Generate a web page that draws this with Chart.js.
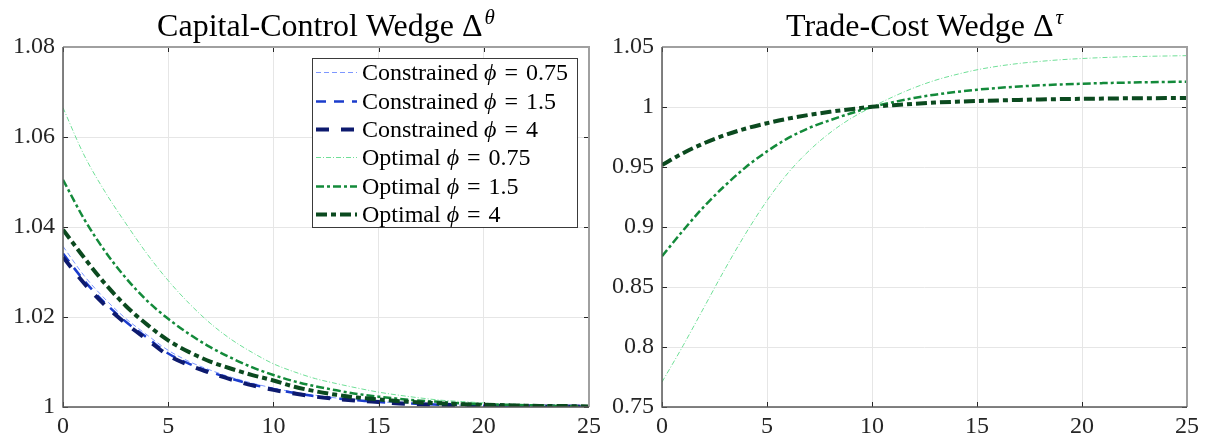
<!DOCTYPE html>
<html>
<head>
<meta charset="utf-8">
<title>Wedges</title>
<script src="https://cdn.jsdelivr.net/npm/chart.js@4.4.1/dist/chart.umd.min.js"></script>
<style>
  html, body { margin: 0; padding: 0; background: #fff; }
  #wrap { position: relative; width: 1209px; height: 444px; }
  #left { position: absolute; left: 0; top: 0; }
  #right { position: absolute; left: 600px; top: 0; }
</style>
</head>
<body>
<div id="wrap">
  <canvas id="left" width="600" height="444"></canvas>
  <canvas id="right" width="609" height="444"></canvas>
</div>
<script>
const SERIF = '"Liberation Serif", "Times New Roman", serif';

// horizon (periods)
const steps = [0, 1, 2, 3, 4, 5, 6, 7, 8, 9, 10, 11, 12, 13, 14, 15, 16, 17, 18, 19, 20, 21, 22, 23, 24, 25];

const xTicks = [0, 5, 10, 15, 20, 25];
const capitalTicks = [1, 1.02, 1.04, 1.06, 1.08];
const tradeTicks = [0.75, 0.8, 0.85, 0.9, 0.95, 1, 1.05];

// capital-control wedge
const capConstrained075 = [1.0357, 1.0292, 1.0240, 1.0196, 1.0160, 1.0126, 1.0101, 1.0082, 1.0066, 1.0053, 1.0042, 1.0033, 1.0026, 1.0020, 1.0016, 1.0012, 1.0009, 1.0007, 1.0005, 1.0004, 1.0003, 1.0002, 1.0002, 1.0001, 1.0001, 1.0001];
const capConstrained15 = [1.0341, 1.0281, 1.0231, 1.0189, 1.0154, 1.0119, 1.0096, 1.0078, 1.0063, 1.0050, 1.0040, 1.0031, 1.0024, 1.0019, 1.0015, 1.0011, 1.0009, 1.0007, 1.0005, 1.0004, 1.0003, 1.0002, 1.0002, 1.0001, 1.0001, 1.0001];
const capConstrained4 = [1.0333, 1.0275, 1.0226, 1.0185, 1.0150, 1.0115, 1.0093, 1.0076, 1.0061, 1.0048, 1.0038, 1.0030, 1.0023, 1.0018, 1.0014, 1.0011, 1.0008, 1.0006, 1.0005, 1.0004, 1.0003, 1.0002, 1.0002, 1.0001, 1.0001, 1.0001];
const capOptimal075 = [1.0665, 1.0560, 1.0478, 1.0407, 1.0340, 1.0281, 1.0230, 1.0186, 1.0150, 1.0121, 1.0096, 1.0078, 1.0063, 1.0052, 1.0042, 1.0033, 1.0026, 1.0020, 1.0015, 1.0012, 1.0009, 1.0006, 1.0004, 1.0003, 1.0002, 1.0001];
const capOptimal15 = [1.0505, 1.0418, 1.0346, 1.0286, 1.0236, 1.0196, 1.0162, 1.0133, 1.0109, 1.0088, 1.0071, 1.0057, 1.0046, 1.0037, 1.0029, 1.0023, 1.0018, 1.0014, 1.0011, 1.0008, 1.0006, 1.0005, 1.0004, 1.0003, 1.0002, 1.0001];
const capOptimal4 = [1.0394, 1.0332, 1.0274, 1.0224, 1.0183, 1.0148, 1.0122, 1.0101, 1.0085, 1.0071, 1.0059, 1.0045, 1.0035, 1.0027, 1.0021, 1.0017, 1.0013, 1.0010, 1.0008, 1.0006, 1.0005, 1.0004, 1.0003, 1.0002, 1.0002, 1.0001];

// trade-cost wedge
const tradeOptimal075 = [0.7708, 0.8010, 0.8330, 0.8650, 0.8950, 0.9220, 0.9450, 0.9635, 0.9785, 0.9905, 1.0000, 1.0085, 1.0160, 1.0222, 1.0270, 1.0310, 1.0340, 1.0363, 1.0380, 1.0394, 1.0404, 1.0412, 1.0418, 1.0422, 1.0425, 1.0428];
const tradeOptimal15 = [0.8756, 0.8970, 0.9170, 0.9345, 0.9500, 0.9630, 0.9740, 0.9825, 0.9890, 0.9948, 1.0000, 1.0040, 1.0075, 1.0103, 1.0125, 1.0144, 1.0159, 1.0171, 1.0181, 1.0188, 1.0194, 1.0199, 1.0203, 1.0206, 1.0209, 1.0211];
const tradeOptimal4 = [0.9516, 0.9615, 0.9698, 0.9766, 0.9821, 0.9865, 0.9903, 0.9934, 0.9960, 0.9982, 1.0002, 1.0015, 1.0027, 1.0037, 1.0044, 1.0050, 1.0055, 1.0059, 1.0063, 1.0066, 1.0068, 1.0070, 1.0072, 1.0073, 1.0074, 1.0075];

const legendNames = ["Constrained", "Constrained", "Constrained", "Optimal", "Optimal", "Optimal"];
const legendPhi = ["0.75", "1.5", "4", "0.75", "1.5", "4"];

const styles = {
  c075: { color: "#7d97ff", width: 1, dash: [5, 3] },
  c15: { color: "#1b3ccc", width: 2.5, dash: [10, 8] },
  c4: { color: "#0d1a6e", width: 4, dash: [13, 12] },
  o075: { color: "#6fdf97", width: 1, dash: [5, 2, 1, 2] },
  o15: { color: "#138a3a", width: 2.5, dash: [8, 3, 3, 3] },
  o4: { color: "#0b4a1f", width: 4, dash: [11, 4, 5, 4] },
};

function series(values, style, order) {
  return {
    data: steps.map((x, i) => ({ x: x, y: values[i] })),
    borderColor: style.color,
    borderWidth: style.width,
    borderDash: style.dash,
    pointRadius: 0,
    cubicInterpolationMode: "monotone",
    fill: false,
    order: order,
  };
}

function fmt(v) {
  return String(Number(v.toFixed(4)));
}

// MATLAB-like box with inward ticks on all four sides
function boxPlugin() {
  return {
    id: "box",
    afterDatasetsDraw(chart) {
      const { ctx, chartArea: a, scales } = chart;
      ctx.save();
      ctx.strokeStyle = "#262626";
      ctx.lineWidth = 1;
      ctx.beginPath();
      for (const t of scales.x.ticks) {
        const px = Math.round(scales.x.getPixelForValue(t.value)) + 0.5;
        ctx.moveTo(px, a.bottom); ctx.lineTo(px, a.bottom - 5);
        ctx.moveTo(px, a.top); ctx.lineTo(px, a.top + 5);
      }
      for (const t of scales.y.ticks) {
        const py = Math.round(scales.y.getPixelForValue(t.value)) + 0.5;
        ctx.moveTo(a.left, py); ctx.lineTo(a.left + 5, py);
        ctx.moveTo(a.right, py); ctx.lineTo(a.right - 5, py);
      }
      ctx.stroke();
      ctx.strokeStyle = "#a0a0a0";
      ctx.lineWidth = 2;
      ctx.beginPath();
      ctx.moveTo(a.left, a.top); ctx.lineTo(a.right, a.top); ctx.lineTo(a.right, a.bottom);
      ctx.stroke();
      ctx.strokeStyle = "#5a5a5a";
      ctx.lineWidth = 1.5;
      ctx.beginPath();
      ctx.moveTo(a.left, a.top); ctx.lineTo(a.left, a.bottom); ctx.lineTo(a.right, a.bottom);
      ctx.stroke();
      ctx.restore();
    },
  };
}

function titlePlugin(main, sup) {
  return {
    id: "wedgeTitle",
    afterDraw(chart) {
      const { ctx, chartArea: a } = chart;
      ctx.save();
      ctx.fillStyle = "#000";
      ctx.textBaseline = "alphabetic";
      ctx.textAlign = "left";
      ctx.font = "32px " + SERIF;
      const w1 = ctx.measureText(main).width;
      ctx.font = "italic 21px " + SERIF;
      const w2 = ctx.measureText(sup).width;
      const x0 = (a.left + a.right) / 2 - (w1 + w2 + 2) / 2;
      ctx.font = "32px " + SERIF;
      ctx.fillText(main, x0, 36);
      ctx.font = "italic 21px " + SERIF;
      ctx.fillText(sup, x0 + w1 + 2, 24);
      ctx.restore();
    },
  };
}

function legendPlugin() {
  return {
    id: "wedgeLegend",
    afterDraw(chart) {
      const { ctx } = chart;
      const box = { left: 312, top: 58, right: 578, bottom: 228 };
      ctx.save();
      ctx.fillStyle = "#fff";
      ctx.fillRect(box.left, box.top, box.right - box.left, box.bottom - box.top);
      ctx.strokeStyle = "#3a3a3a";
      ctx.lineWidth = 1;
      ctx.strokeRect(box.left + 0.5, box.top + 0.5, box.right - box.left - 1, box.bottom - box.top - 1);
      const rowH = (box.bottom - box.top) / 6;
      chart.data.datasets.forEach((ds, i) => {
        const cy = Math.round(box.top + rowH * (i + 0.5)) + 0.5;
        ctx.strokeStyle = ds.borderColor;
        ctx.lineWidth = ds.borderWidth;
        ctx.setLineDash(ds.borderDash);
        ctx.beginPath();
        ctx.moveTo(316, cy);
        ctx.lineTo(357, cy);
        ctx.stroke();
        ctx.setLineDash([]);
        ctx.fillStyle = "#000";
        ctx.textBaseline = "middle";
        let x = 362;
        ctx.font = "24px " + SERIF;
        ctx.fillText(legendNames[i] + " ", x, cy + 1);
        x += ctx.measureText(legendNames[i] + " ").width;
        ctx.font = "italic 24px " + SERIF;
        ctx.fillText("\u03D5", x, cy + 1);
        x += ctx.measureText("\u03D5").width + 8;
        ctx.font = "24px " + SERIF;
        ctx.fillText("=", x, cy + 1);
        x += ctx.measureText("=").width + 8;
        ctx.fillText(legendPhi[i], x, cy + 1);
      });
      ctx.restore();
    },
  };
}

function axesOptions(yMin, yMax, yTickValues, yWidth, rightPad) {
  return {
    responsive: false,
    animation: false,
    layout: { padding: { top: 47, right: rightPad, bottom: 0, left: 0 } },
    plugins: { legend: { display: false }, tooltip: { enabled: false }, title: { display: false } },
    scales: {
      x: {
        type: "linear",
        min: 0,
        max: 25,
        afterBuildTicks: (scale) => { scale.ticks = xTicks.map((v) => ({ value: v })); },
        afterFit: (scale) => { scale.height = 37; scale.paddingLeft = 0; scale.paddingRight = 0; },
        grid: { color: "#e6e6e6", lineWidth: 1, drawTicks: false },
        border: { display: false },
        ticks: {
          color: "#262626",
          font: { family: SERIF, size: 24 },
          padding: 5,
          maxRotation: 0,
          callback: (v) => fmt(v),
        },
      },
      y: {
        type: "linear",
        min: yMin,
        max: yMax,
        afterBuildTicks: (scale) => { scale.ticks = yTickValues.map((v) => ({ value: v })); },
        afterFit: (scale) => { scale.width = yWidth; scale.paddingTop = 0; scale.paddingBottom = 0; },
        grid: { color: "#e6e6e6", lineWidth: 1, drawTicks: false },
        border: { display: false },
        ticks: {
          color: "#262626",
          font: { family: SERIF, size: 24 },
          padding: 8,
          callback: (v) => fmt(v),
        },
      },
    },
  };
}

new Chart(document.getElementById("left"), {
  type: "line",
  data: {
    datasets: [
      series(capConstrained075, styles.c075, 6),
      series(capConstrained15, styles.c15, 5),
      series(capConstrained4, styles.c4, 4),
      series(capOptimal075, styles.o075, 3),
      series(capOptimal15, styles.o15, 2),
      series(capOptimal4, styles.o4, 1),
    ],
  },
  options: axesOptions(1, 1.08, capitalTicks, 63, 11),
  plugins: [boxPlugin(), titlePlugin("Capital-Control Wedge \u0394", "\u03B8"), legendPlugin()],
});

new Chart(document.getElementById("right"), {
  type: "line",
  data: {
    datasets: [
      series(tradeOptimal075, styles.o075, 3),
      series(tradeOptimal15, styles.o15, 2),
      series(tradeOptimal4, styles.o4, 1),
    ],
  },
  options: axesOptions(0.75, 1.05, tradeTicks, 62, 22),
  plugins: [boxPlugin(), titlePlugin("Trade-Cost Wedge \u0394", "\u03C4")],
});
</script>
</body>
</html>
